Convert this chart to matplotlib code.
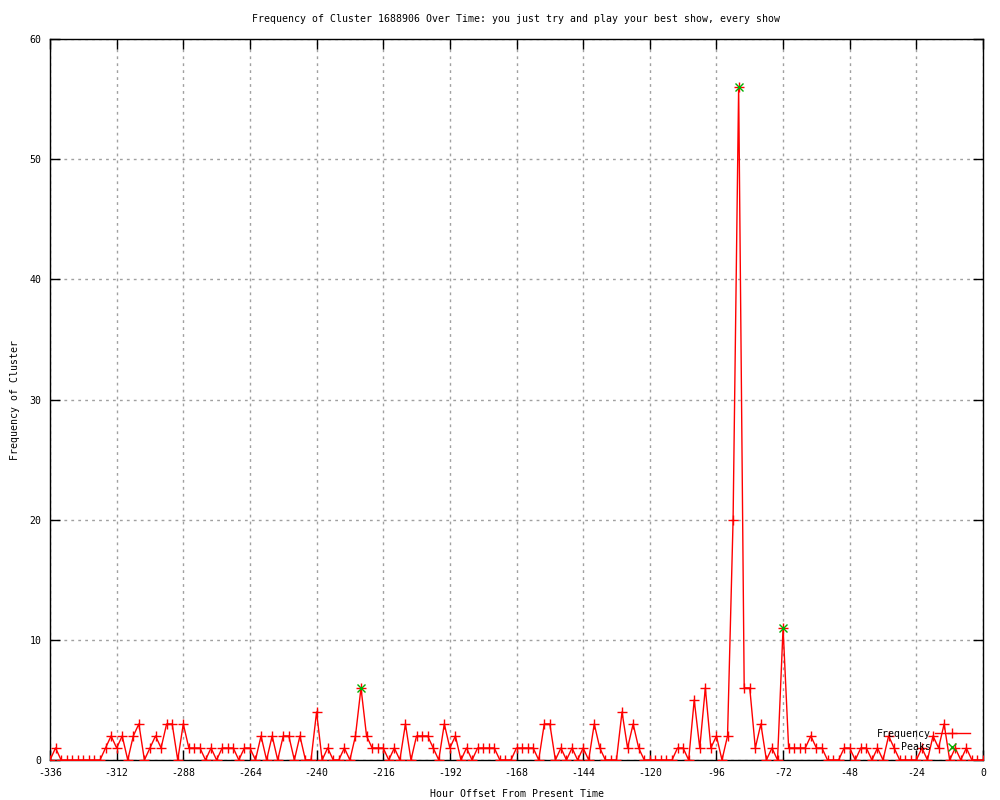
import matplotlib
matplotlib.use('Agg')
import matplotlib.pyplot as plt
import numpy as np

# ---- data ----
hours = list(range(-336, 1, 2))  # one sample every 2 hours, -336 .. 0

frequency = [
    0, 1, 0, 0, 0, 0, 0, 0, 0, 0,
    1, 2, 1, 2, 0, 2, 3, 0, 1, 2,
    1, 3, 3, 0, 3, 1, 1, 1, 0, 1,
    0, 1, 1, 1, 0, 1, 1, 0, 2, 0,
    2, 0, 2, 2, 0, 2, 0, 0, 4, 0,
    1, 0, 0, 1, 0, 2, 6, 2, 1, 1,
    1, 0, 1, 0, 3, 0, 2, 2, 2, 1,
    0, 3, 1, 2, 0, 1, 0, 1, 1, 1,
    1, 0, 0, 0, 1, 1, 1, 1, 0, 3,
    3, 0, 1, 0, 1, 0, 1, 0, 3, 1,
    0, 0, 0, 4, 1, 3, 1, 0, 0, 0,
    0, 0, 0, 1, 1, 0, 5, 1, 6, 1,
    2, 0, 2, 20, 56, 6, 6, 1, 3, 0,
    1, 0, 11, 1, 1, 1, 1, 2, 1, 1,
    0, 0, 0, 1, 1, 0, 1, 1, 0, 1,
    0, 2, 1, 0, 0, 0, 0, 1, 0, 2,
    1, 3, 0, 1, 0, 1, 0, 0, 0,
]

peak_hours = [-224, -88, -72]
peak_values = [6, 56, 11]

x_ticks = list(range(-336, 1, 24))
y_ticks = list(range(0, 61, 10))

title = 'Frequency of Cluster 1688906 Over Time: you just try and play your best show, every show'

# ---- style (gnuplot look) ----
plt.rcParams['font.family'] = ['DejaVu Sans Mono']
plt.rcParams['font.size'] = 7.1
plt.rcParams['axes.unicode_minus'] = False

fig = plt.figure(figsize=(10, 8), dpi=100)
ax = fig.add_axes([0.05, 0.05, 0.933, 0.90125])

ax.plot(hours, frequency, color='red', linewidth=1, marker='+',
        markersize=7, markeredgewidth=1, label='Frequency', zorder=3)
ax.plot(peak_hours, peak_values, linestyle='none', color='#00b000',
        marker='x', markersize=6, markeredgewidth=1, label='Peaks', zorder=4)

ax.set_xlim(-336, 0)
ax.set_ylim(0, 60)
ax.set_xticks(x_ticks)
ax.set_yticks(y_ticks)
ax.tick_params(direction='in', length=7, width=1, top=True, right=True,
               labelsize=7.1, pad=6, colors='black')
ax.grid(True, color='#a0a0a0', linestyle=(0, (2, 3)), linewidth=1, zorder=0)
for s in ax.spines.values():
    s.set_linewidth(1)

ax.set_title(title, fontsize=7.1, pad=12)
ax.set_xlabel('Hour Offset From Present Time', fontsize=7.1, labelpad=8)
ax.set_ylabel('Frequency of Cluster', fontsize=7.1, labelpad=7)

ax.legend(loc='lower right', bbox_to_anchor=(0.99, 0.005), frameon=False,
          markerfirst=False, handlelength=3.5, handletextpad=0.4,
          labelspacing=0.4, borderaxespad=0, fontsize=7.1)

plt.savefig('out.png', dpi=100)
plt.close()
